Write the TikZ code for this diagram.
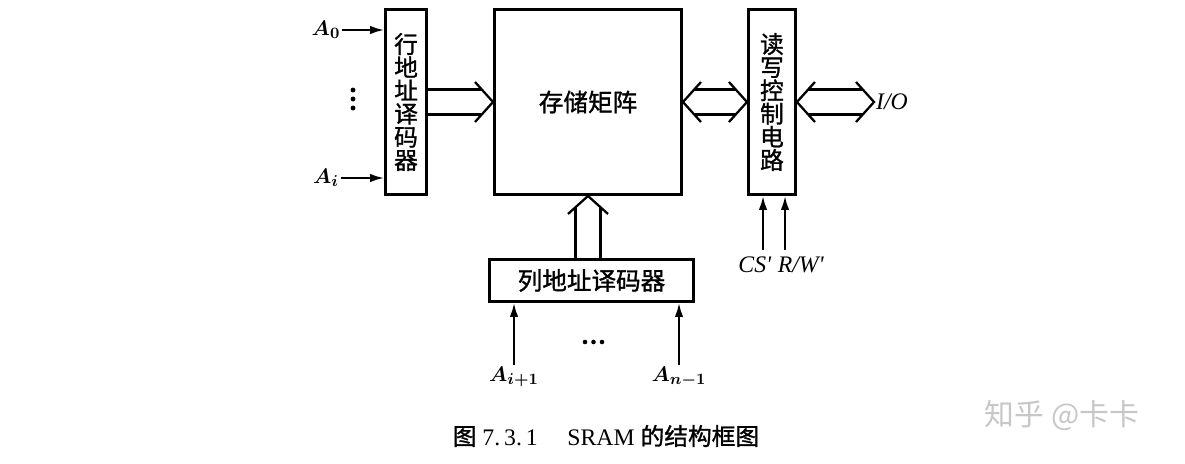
\documentclass[tikz,border=0pt]{standalone}
\usepackage{fontspec}
\setmainfont{Liberation Serif}
\newfontfamily\cjk[FakeBold=1.2]{Noto Sans CJK SC}
\newfontfamily\cjkthin{Noto Sans CJK SC}
\usetikzlibrary{arrows.meta,positioning,calc}

\begin{document}
\begin{tikzpicture}[x=0.02cm, y=-0.02cm,
    node distance=1.3cm,
    box/.style={rectangle, draw, line width=1.7pt, inner sep=0pt, align=center,
                font=\cjk\fontsize{13.5}{13.2}\selectfont},
    lab/.style={inner sep=1pt, font=\fontsize{13.5}{15}\selectfont},
    alab/.style={inner sep=1pt, font=\fontsize{13}{15}\selectfont\boldmath},
    arr/.style={-{Latex[length=2.8mm, width=1.7mm]}, line width=1.2pt},
    bus/.style={line width=1.3pt, line join=miter}]
\useasboundingbox (0,0) rectangle (1185,463);
% boxes
\node[box, minimum width=3.74cm, minimum height=3.7cm,
      font=\cjk\fontsize{14}{15}\selectfont] (matrix) at (588,102) {存储矩阵};
\node[box, minimum width=0.82cm, minimum height=3.7cm, left=1.3cm of matrix] (rowdec)
      {行\\地\\址\\译\\码\\器};
\node[box, minimum width=0.94cm, minimum height=3.7cm, right=1.28cm of matrix] (rwctl)
      {读\\写\\控\\制\\电\\路};
\node[box, minimum width=4.08cm, minimum height=0.84cm, below=1.24cm of matrix, xshift=0.07cm,
      font=\cjk\fontsize{14}{15}\selectfont] (coldec) {列地址译码器};
% labels
\node[alab] (a0) at (326,30) {$A_0$};
\node[alab] (ai) at (326,178) {$A_i$};
\node[alab] (ai1) at (514,377) {$A_{i+1}$};
\node[alab] (an1) at (679,377) {$A_{n-1}$};
\node[lab] (cs) at (755,265) {\textit{CS\textquotesingle}};
\node[lab] (rw) at (801,265) {\textit{R/W\textquotesingle}};
\node[lab, anchor=west] (io) at (874,102) {\textit{I/O}};
\coordinate (csin) at (763,250);
\coordinate (rwin) at (785,250);
% row address inputs
\draw[arr] (a0.east) -- (a0.east -| rowdec.west);
\draw[arr] (ai.east) -- (ai.east -| rowdec.west);
\foreach \y in {90,99,108} \fill (353,\y) circle (1.4pt);
% column address inputs
\draw[arr] (ai1.north) -- (ai1.north |- coldec.south);
\draw[arr] (an1.north) -- (an1.north |- coldec.south);
\foreach \x in {585,593.5,602} \fill (\x,342) circle (1.3pt);
% control inputs
\draw[arr] (csin) -- (csin |- rwctl.south);
\draw[arr] (rwin) -- (rwin |- rwctl.south);
% row bus
\draw[bus] ($(rowdec.east)+(0,-12.5)$) -- ($(matrix.west)+(-11,-12.5)$);
\draw[bus] ($(rowdec.east)+(0,12.5)$) -- ($(matrix.west)+(-11,12.5)$);
\draw[bus] ($(matrix.west)+(-18,-20)$) -- (matrix.west) -- ($(matrix.west)+(-18,20)$);
% data bus
\draw[bus] ($(matrix.east)+(11,-12.5)$) -- ($(rwctl.west)+(-11,-12.5)$);
\draw[bus] ($(matrix.east)+(11,12.5)$) -- ($(rwctl.west)+(-11,12.5)$);
\draw[bus] ($(matrix.east)+(18,-20)$) -- (matrix.east) -- ($(matrix.east)+(18,20)$);
\draw[bus] ($(rwctl.west)+(-18,-20)$) -- (rwctl.west) -- ($(rwctl.west)+(-18,20)$);
% i/o bus
\draw[bus] ($(rwctl.east)+(11,-12.5)$) -- ($(io.west)+(-11,-12.5)$);
\draw[bus] ($(rwctl.east)+(11,12.5)$) -- ($(io.west)+(-11,12.5)$);
\draw[bus] ($(rwctl.east)+(18,-20)$) -- (rwctl.east) -- ($(rwctl.east)+(18,20)$);
\draw[bus] ($(io.west)+(-18,-20)$) -- (io.west) -- ($(io.west)+(-18,20)$);
% column bus
\coordinate (colL) at ($(matrix.south)+(-12.5,0)$);
\coordinate (colR) at ($(matrix.south)+(12.5,0)$);
\draw[bus] ($(colL)+(0,11)$) -- (colL |- coldec.north);
\draw[bus] ($(colR)+(0,11)$) -- (colR |- coldec.north);
\draw[bus] ($(matrix.south)+(-20,18)$) -- (matrix.south) -- ($(matrix.south)+(20,18)$);
% caption
\node[font=\fontsize{13.5}{15}\selectfont] (caption) at (606,436)
      {{\cjk 图}\ 7.\,3.\,1\quad\ SRAM {\cjk 的结构框图}};
\node[text=black!22, font=\cjkthin\fontsize{17}{19}\selectfont] (mark) at (1062,416) {知乎\ @卡卡};
\end{tikzpicture}
\end{document}
